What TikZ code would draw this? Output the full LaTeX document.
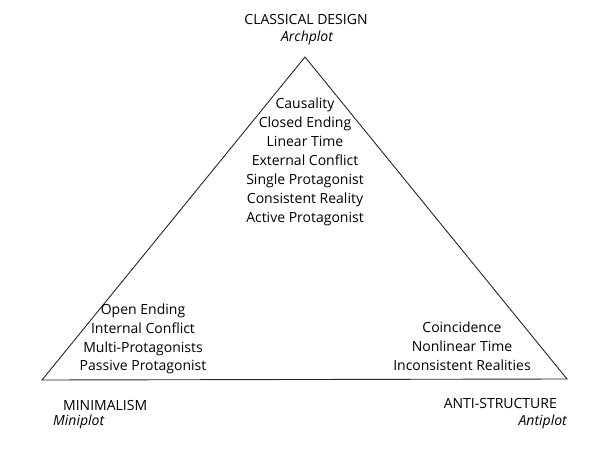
\documentclass[tikz,border=0pt]{standalone}
\usepackage{fontspec}
\setmainfont{Open Sans}
\begin{document}
\begin{tikzpicture}[x=1pt,y=1pt,
  lbl/.style={inner sep=0pt, font=\fontsize{14}{18.9}\selectfont, align=center},
  tri/.style={draw=black!85, line width=0.9pt, line join=miter}]
\useasboundingbox (0,0) rectangle (592,456);
\coordinate (apex) at (305,399);
\coordinate (bl) at (42,76);
\coordinate (br) at (567,77);
\draw[tri] (apex) -- (bl) -- (br) -- cycle;
\node[lbl] (cd) at (306,436) {CLASSICAL DESIGN};
\node[lbl] (arch) at (307,418) {\itshape Archplot};
\node[lbl] (center) at (305,294) {Causality\\Closed Ending\\Linear Time\\External Conflict\\Single Protagonist\\Consistent Reality\\Active Protagonist};
\node[lbl] (left) at (143,117) {Open Ending\\Internal Conflict\\Multi-Protagonists\\Passive Protagonist};
\node[lbl] (right) at (462,110) {Coincidence\\Nonlinear Time\\Inconsistent Realities};
\node[lbl, anchor=west] (mini) at (63,51) {MINIMALISM};
\node[lbl, anchor=west] (minip) at (53,34) {\itshape Miniplot};
\node[lbl, anchor=east] (anti) at (557,53) {ANTI-STRUCTURE};
\node[lbl, anchor=east] (antip) at (567,34) {\itshape Antiplot};
\end{tikzpicture}
\end{document}
